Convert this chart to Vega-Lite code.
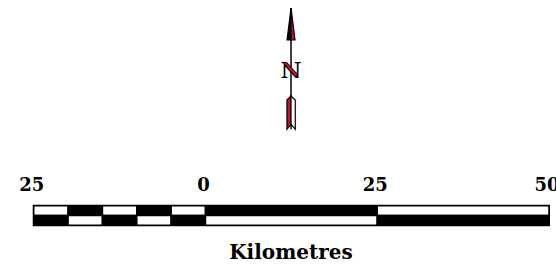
{
  "$schema": "https://vega.github.io/schema/vega-lite/v6.json",
  "width": 556,
  "height": 271,
  "autosize": {"type": "none"},
  "padding": 0,
  "background": "white",
  "config": {"view": {"stroke": null}},
  "datasets": {
    "cells": [
      {"x": -25, "x2": -20, "y": 0, "y2": 1.41, "fill": "white"},
      {"x": -20, "x2": -15, "y": 0, "y2": 1.41, "fill": "black"},
      {"x": -15, "x2": -10, "y": 0, "y2": 1.41, "fill": "white"},
      {"x": -10, "x2": -5, "y": 0, "y2": 1.41, "fill": "black"},
      {"x": -5, "x2": 0, "y": 0, "y2": 1.41, "fill": "white"},
      {"x": 0, "x2": 25, "y": 0, "y2": 1.41, "fill": "black"},
      {"x": 25, "x2": 50, "y": 0, "y2": 1.41, "fill": "white"},
      {"x": -25, "x2": -20, "y": -1.41, "y2": 0, "fill": "black"},
      {"x": -20, "x2": -15, "y": -1.41, "y2": 0, "fill": "white"},
      {"x": -15, "x2": -10, "y": -1.41, "y2": 0, "fill": "black"},
      {"x": -10, "x2": -5, "y": -1.41, "y2": 0, "fill": "white"},
      {"x": -5, "x2": 0, "y": -1.41, "y2": 0, "fill": "black"},
      {"x": 0, "x2": 25, "y": -1.41, "y2": 0, "fill": "white"},
      {"x": 25, "x2": 50, "y": -1.41, "y2": 0, "fill": "black"}
    ],
    "labels": [
      {"x": -25, "y": 3.58, "label": "25"},
      {"x": 0, "y": 3.58, "label": "0"},
      {"x": 25, "y": 3.58, "label": "25"},
      {"x": 50, "y": 3.58, "label": "50"}
    ],
    "arrowParts": [
      {"part": "headL", "fill": "black", "x": 11.87, "top": 25.63, "bottom": 25.63},
      {"part": "headL", "fill": "black", "x": 12.45, "top": 30.3, "bottom": 25.63},
      {"part": "headR", "fill": "#c8102e", "x": 12.45, "top": 30.3, "bottom": 25.63},
      {"part": "headR", "fill": "#c8102e", "x": 13.03, "top": 25.63, "bottom": 25.63},
      {"part": "tailL", "fill": "#c8102e", "x": 11.86, "top": 16.87, "bottom": 12.59},
      {"part": "tailL", "fill": "#c8102e", "x": 12.45, "top": 17.45, "bottom": 13.36},
      {"part": "tailR", "fill": "white", "x": 12.45, "top": 17.45, "bottom": 13.36},
      {"part": "tailR", "fill": "white", "x": 13.07, "top": 16.87, "bottom": 12.59}
    ]
  },
  "layer": [
    {
      "data": {"values": [{"x": 12.45, "y": 30.3, "y2": 12.59}]},
      "mark": {"type": "rule", "color": "black", "strokeWidth": 1.5},
      "encoding": {
        "x": {"field": "x", "type": "quantitative", "scale": {"domain": [-29.91, 51.02], "nice": false, "zero": false}, "axis": null},
        "y": {"field": "y", "type": "quantitative", "scale": {"domain": [-8.1, 31.47], "nice": false, "zero": false}, "axis": null},
        "y2": {"field": "y2"}
      }
    },
    {
      "data": {"name": "arrowParts"},
      "mark": {"type": "area", "orient": "vertical", "stroke": "black", "strokeWidth": 1.2, "interpolate": "linear"},
      "encoding": {
        "x": {"field": "x", "type": "quantitative"},
        "y": {"field": "top", "type": "quantitative", "stack": null},
        "y2": {"field": "bottom"},
        "detail": {"field": "part"},
        "fill": {"field": "fill", "type": "nominal", "scale": null}
      }
    },
    {
      "data": {"values": [{"x": 12.45, "y": 20.08, "t": "N"}]},
      "mark": {"type": "text", "font": "DejaVu Serif", "fontWeight": "bold", "fontSize": 23, "baseline": "alphabetic", "align": "center", "color": "black"},
      "encoding": {
        "x": {"field": "x", "type": "quantitative"},
        "y": {"field": "y", "type": "quantitative"},
        "text": {"field": "t"}
      }
    },
    {
      "data": {"values": [{"x": 11.6, "y": 22.3, "x2": 13.25, "y2": 20.45}]},
      "mark": {"type": "rule", "color": "#d0102a", "strokeWidth": 2},
      "encoding": {
        "x": {"field": "x", "type": "quantitative"},
        "y": {"field": "y", "type": "quantitative"},
        "x2": {"field": "x2"},
        "y2": {"field": "y2"}
      }
    },
    {
      "data": {"values": [{"x": -25, "x2": 50, "y": -1.41, "y2": 1.41}]},
      "mark": {"type": "rect", "fill": "black", "stroke": "black", "strokeWidth": 2},
      "encoding": {
        "x": {"field": "x", "type": "quantitative"},
        "x2": {"field": "x2"},
        "y": {"field": "y", "type": "quantitative"},
        "y2": {"field": "y2"}
      }
    },
    {
      "data": {"name": "cells"},
      "mark": {"type": "rect", "stroke": "black", "strokeWidth": 1.5},
      "encoding": {
        "x": {"field": "x", "type": "quantitative"},
        "x2": {"field": "x2"},
        "y": {"field": "y", "type": "quantitative"},
        "y2": {"field": "y2"},
        "fill": {"field": "fill", "type": "nominal", "scale": null}
      }
    },
    {
      "data": {"name": "labels"},
      "mark": {"type": "text", "font": "DejaVu Serif", "fontWeight": "bold", "fontSize": 18, "baseline": "alphabetic", "align": "center", "dx": -2, "color": "black"},
      "encoding": {
        "x": {"field": "x", "type": "quantitative"},
        "y": {"field": "y", "type": "quantitative"},
        "text": {"field": "label"}
      }
    },
    {
      "data": {"values": [{"x": 12.45, "y": -6.35, "t": "Kilometres"}]},
      "mark": {"type": "text", "font": "DejaVu Serif", "fontWeight": "bold", "fontSize": 20, "baseline": "alphabetic", "align": "center", "color": "black"},
      "encoding": {
        "x": {"field": "x", "type": "quantitative"},
        "y": {"field": "y", "type": "quantitative"},
        "text": {"field": "t"}
      }
    }
  ]
}
